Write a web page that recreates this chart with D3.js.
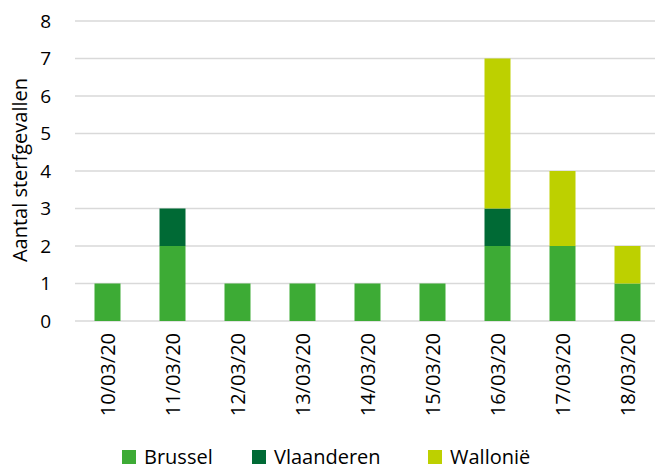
<!DOCTYPE html>
<html>
<head>
<meta charset="utf-8">
<script src="https://cdn.jsdelivr.net/npm/d3@7"></script>
<style>
  body { margin: 0; background: #fff; }
  text { font-family: "Open Sans", "Noto Sans", sans-serif; fill: #000; }
</style>
</head>
<body>
<script>
var dates = ["10/03/20", "11/03/20", "12/03/20", "13/03/20", "14/03/20", "15/03/20", "16/03/20", "17/03/20", "18/03/20"];
var brussel = [1, 2, 1, 1, 1, 1, 2, 2, 1];
var vlaanderen = [0, 1, 0, 0, 0, 0, 1, 0, 0];
var wallonie = [0, 0, 0, 0, 0, 0, 4, 2, 1];
var seriesNames = ["Brussel", "Vlaanderen", "Wallonië"];
var yTicks = [0, 1, 2, 3, 4, 5, 6, 7, 8];

var colors = ["#3dab35", "#006a35", "#bdd000"];

var W = 657, H = 470;

var svg = d3.select("body").append("svg")
    .attr("width", W)
    .attr("height", H);

var x = d3.scaleBand()
    .domain(dates)
    .range([75, 660])
    .padding(0);

var y = d3.scaleLinear()
    .domain([0, 8])
    .range([321, 21]);

// gridlines
svg.selectAll(".grid")
    .data(yTicks)
    .enter()
    .append("line")
    .attr("x1", 75)
    .attr("x2", 655)
    .attr("y1", function(d) { return y(d); })
    .attr("y2", function(d) { return y(d); })
    .attr("stroke", "#d9d9d9")
    .attr("stroke-width", 1.3);

// build stacked table
var table = dates.map(function(d, i) {
  return { date: d, "Brussel": brussel[i], "Vlaanderen": vlaanderen[i], "Wallonië": wallonie[i] };
});
var stacked = d3.stack().keys(seriesNames)(table);

var barW = x.bandwidth() * 0.4;

svg.selectAll(".layer")
    .data(stacked)
    .enter()
    .append("g")
    .attr("fill", function(d, i) { return colors[i]; })
    .selectAll("rect")
    .data(function(d) { return d; })
    .enter()
    .append("rect")
    .attr("x", function(d) { return x(d.data.date) + (x.bandwidth() - barW) / 2; })
    .attr("width", barW)
    .attr("y", function(d) { return y(d[1]); })
    .attr("height", function(d) { return y(d[0]) - y(d[1]); });

// y axis labels
var yAxis = d3.axisLeft(y).tickValues(yTicks).tickSize(0).tickPadding(0);
var gy = svg.append("g")
    .attr("transform", "translate(51,0)")
    .call(yAxis);
gy.select(".domain").remove();
gy.selectAll("text")
    .style("font-size", "19px")
    .attr("font-family", null);

// x axis labels
var xAxis = d3.axisBottom(x).tickSize(0).tickPadding(0);
var gx = svg.append("g")
    .attr("transform", "translate(0,321)")
    .call(xAxis);
gx.select(".domain").remove();
gx.selectAll("text")
    .attr("font-family", null)
    .style("font-size", "20px")
    .attr("transform", "rotate(-90)")
    .attr("text-anchor", "end")
    .attr("x", -12)
    .attr("y", 0)
    .attr("dy", "0.36em");

// y title
svg.append("text")
    .attr("transform", "translate(27,170) rotate(-90)")
    .attr("text-anchor", "middle")
    .style("font-size", "20px")
    .text("Aantal sterfgevallen");

// legend
var legendX = [122, 252, 428];
var lg = svg.selectAll(".legend")
    .data(seriesNames)
    .enter()
    .append("g")
    .attr("transform", function(d, i) { return "translate(" + legendX[i] + ",450)"; });
lg.append("rect")
    .attr("width", 14)
    .attr("height", 14)
    .attr("fill", function(d, i) { return colors[i]; });
lg.append("text")
    .attr("x", 22)
    .attr("y", 7)
    .attr("dy", "0.36em")
    .style("font-size", "20px")
    .text(function(d) { return d; });
</script>
</body>
</html>
